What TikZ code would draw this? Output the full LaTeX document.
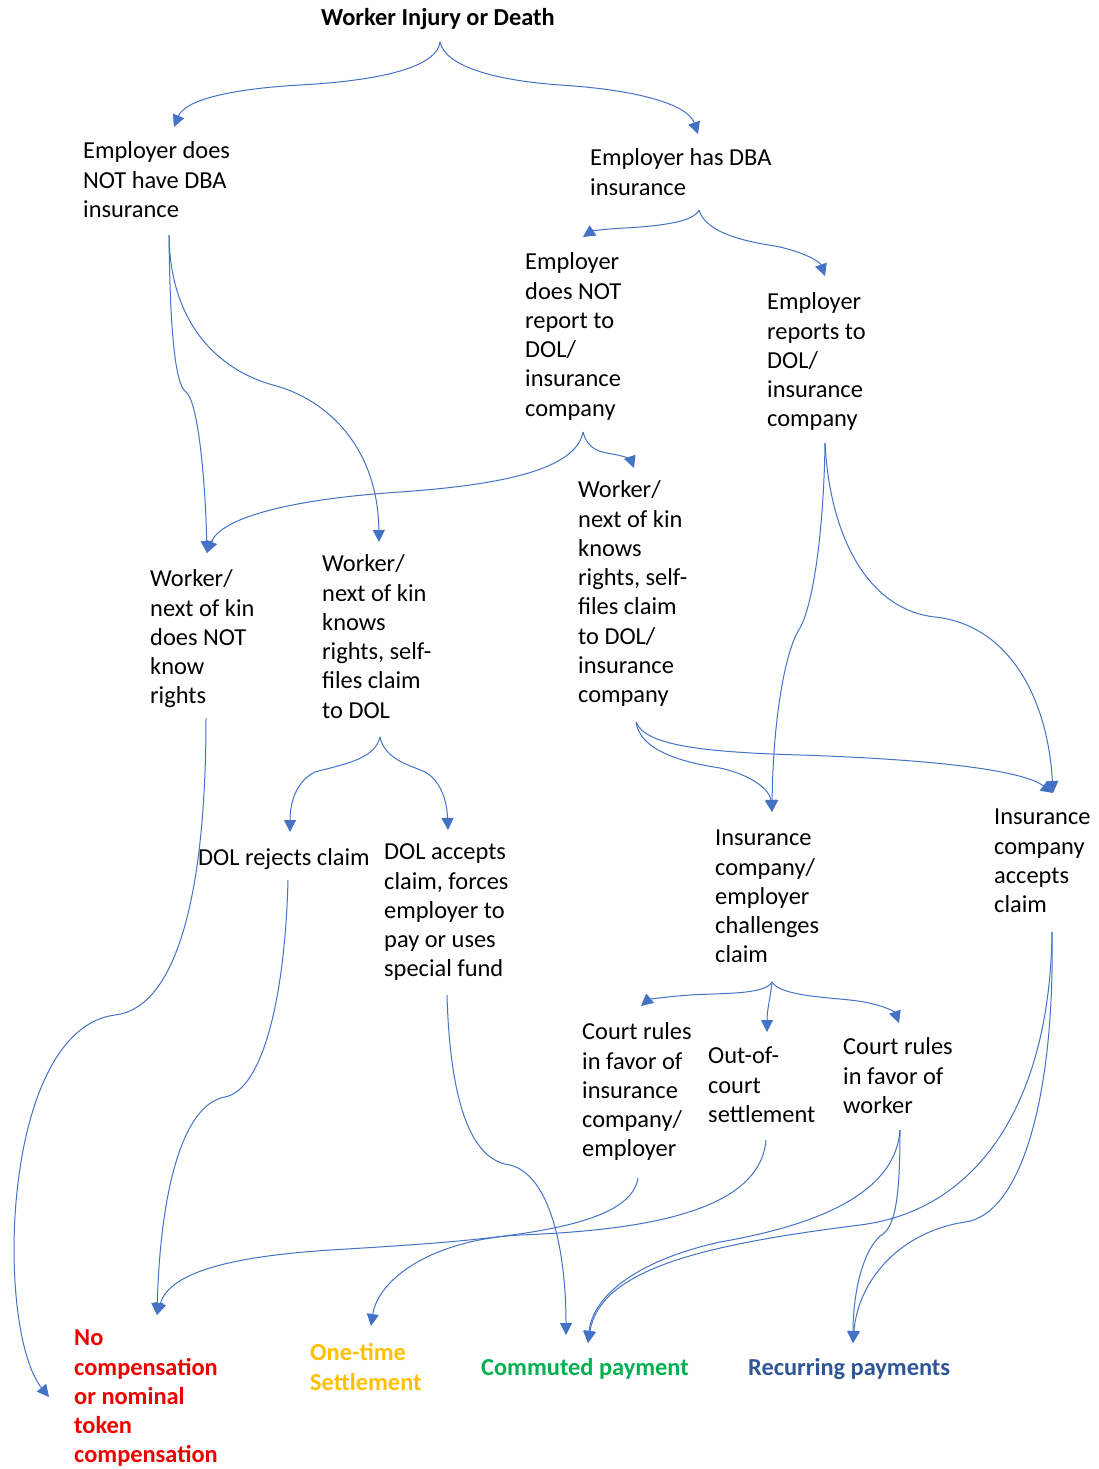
\documentclass[tikz,border=0pt]{standalone}
\usepackage{fontspec}
\setmainfont{Carlito}
\usetikzlibrary{arrows.meta}
\definecolor{arrc}{HTML}{4472C4}
\definecolor{cred}{HTML}{EE0000}
\definecolor{cgold}{HTML}{FFC000}
\definecolor{cgreen}{HTML}{00B050}
\definecolor{cblue}{HTML}{2F5597}
\begin{document}
\begin{tikzpicture}[x=1pt,y=-1pt,
  lbl/.style={anchor=north west,inner sep=0pt,align=left,font=\fontsize{24.4}{29.3}\selectfont},
  res/.style={lbl,font=\fontsize{24.4}{29.3}\selectfont\bfseries},
  conn/.style={draw=arrc,line width=1pt,-{Triangle[length=12pt,width=12pt]}}]
\useasboundingbox (0,0) rectangle (1099,1469);
\fill[white] (0,0) rectangle (1099,1469);

% nodes
\node[anchor=base,inner sep=0pt,font=\fontsize{24.4}{29.3}\selectfont\bfseries] (title) at (438,26) {Worker Injury or Death};
\node[lbl] (empno) at (83,138) {\strut Employer does\\NOT have DBA\\insurance};
\node[lbl] (emphas) at (590,145) {\strut Employer has DBA\\insurance};
\node[lbl] (empnotrep) at (525,249) {\strut Employer\\does NOT\\report to\\DOL/\\insurance\\company};
\node[lbl] (emprep) at (767,289) {\strut Employer\\reports to\\DOL/\\insurance\\company};
\node[lbl] (wkins) at (578,477) {\strut Worker/\\next of kin\\knows\\rights, self-\\files claim\\to DOL/\\insurance\\company};
\node[lbl] (wknot) at (150,566) {\strut Worker/\\next of kin\\does NOT\\know\\rights};
\node[lbl] (wkdol) at (322,551) {\strut Worker/\\next of kin\\knows\\rights, self-\\files claim\\to DOL};
\node[lbl] (dolrej) at (198,845) {\strut DOL rejects claim};
\node[lbl] (dolacc) at (384,839) {\strut DOL accepts\\claim, forces\\employer to\\pay or uses\\special fund};
\node[lbl] (inschal) at (715,825) {\strut Insurance\\company/\\employer\\challenges\\claim};
\node[lbl] (insacc) at (994,804) {\strut Insurance\\company\\accepts\\claim};
\node[lbl] (courtins) at (582,1019) {\strut Court rules\\in favor of\\insurance\\company/\\employer};
\node[lbl] (outcourt) at (708,1043) {\strut Out-of-\\court\\settlement};
\node[lbl] (courtwk) at (843,1034) {\strut Court rules\\in favor of\\worker};
\node[res,text=cred] (nocomp) at (74,1325) {\strut No\\compensation\\or nominal\\token\\compensation};
\node[res,text=cgold] (onetime) at (310,1340) {\strut One-time\\Settlement};
\node[res,text=cgreen] (commuted) at (481,1355) {\strut Commuted payment};
\node[res,text=cblue] (recurring) at (748,1355) {\strut Recurring payments};

% connector ends
\coordinate (title-o) at (440,42);
\coordinate (empno-i) at (174,127);
\coordinate (emphas-i) at (698,134);
\coordinate (emphas-o) at (699,210);
\coordinate (empnotrep-i) at (583,237);
\coordinate (emprep-i) at (825,276);
\coordinate (empno-o) at (169,235);
\coordinate (wknot-i) at (207,553);
\coordinate (wkdol-i) at (379,542);
\coordinate (empnotrep-o) at (583,432);
\coordinate (wkins-i) at (634,468);
\coordinate (emprep-o) at (825,443);
\coordinate (inschal-i) at (772,812);
\coordinate (insacc-i) at (1053,793);
\coordinate (wkins-o) at (636,722);
\coordinate (wkdol-o) at (380,737);
\coordinate (dolrej-i) at (290,832);
\coordinate (dolacc-i) at (448,830);
\coordinate (inschal-o) at (772,982);
\coordinate (courtins-i) at (641,1006);
\coordinate (outcourt-i) at (767,1032);
\coordinate (courtwk-i) at (899,1023);
\coordinate (wknot-o) at (206,718);
\coordinate (nocomp-i1) at (49,1397);
\coordinate (dolrej-o) at (288,880);
\coordinate (nocomp-i2) at (157,1315);
\coordinate (dolacc-o) at (447,995);
\coordinate (commuted-i1) at (566,1335);
\coordinate (courtins-o) at (638,1178);
\coordinate (outcourt-o) at (766,1140);
\coordinate (onetime-i) at (371,1326);
\coordinate (courtwk-o) at (900,1130);
\coordinate (commuted-i2) at (588,1343);
\coordinate (recurring-i) at (853,1343);
\coordinate (insacc-o) at (1052,932);

% connectors
\draw[conn] (title-o) .. controls (437,65) and (390,80) .. (300,85) .. controls (230,89) and (185,100) .. (empno-i);
\draw[conn] (title-o) .. controls (445,65) and (490,80) .. (560,85) .. controls (640,90) and (688,105) .. (emphas-i);

\draw[conn] (emphas-o) .. controls (694,222) and (660,226) .. (625,228) .. controls (605,229) and (592,231) .. (empnotrep-i);
\draw[conn] (emphas-o) .. controls (705,230) and (735,240) .. (775,246) .. controls (805,252) and (820,262) .. (emprep-i);

\draw[conn] (empno-o) .. controls (170,330) and (175,385) .. (186,392) .. controls (197,400) and (205,470) .. (wknot-i);
\draw[conn] (empno-o) .. controls (170,330) and (225,372) .. (273,385) .. controls (330,400) and (378,450) .. (wkdol-i);

\draw[conn] (empnotrep-o) .. controls (576,470) and (500,485) .. (400,492) .. controls (280,500) and (220,520) .. (wknot-i);
\draw[conn] (empnotrep-o) .. controls (588,450) and (600,452) .. (612,454) .. controls (625,456) and (631,460) .. (wkins-i);

\draw[conn] (emprep-o) .. controls (824,520) and (815,600) .. (800,628) .. controls (785,650) and (773,720) .. (inschal-i);
\draw[conn] (emprep-o) .. controls (830,540) and (870,610) .. (935,617) .. controls (1010,625) and (1048,700) .. (insacc-i);

\draw[conn] (wkins-o) .. controls (640,750) and (680,762) .. (720,768) .. controls (752,775) and (770,790) .. (inschal-i);
\draw[conn] (wkins-o) .. controls (645,745) and (700,752) .. (800,755) .. controls (950,760) and (1025,772) .. (insacc-i);

\draw[conn] (wkdol-o) .. controls (375,760) and (340,765) .. (315,772) .. controls (298,780) and (290,800) .. (dolrej-i);
\draw[conn] (wkdol-o) .. controls (385,760) and (410,765) .. (425,772) .. controls (440,780) and (447,800) .. (dolacc-i);

\draw[conn] (inschal-o) .. controls (765,995) and (720,993) .. (690,995) .. controls (662,997) and (648,1000) .. (courtins-i);
\draw[conn] (inschal-o) .. controls (770,1000) and (767,1010) .. (outcourt-i);
\draw[conn] (inschal-o) .. controls (780,995) and (820,997) .. (850,1000) .. controls (880,1003) and (895,1012) .. (courtwk-i);

\draw[conn] (wknot-o) .. controls (206,900) and (175,1008) .. (115,1015) .. controls (0,1030) and (-5,1330) .. (nocomp-i1);
\draw[conn] (dolrej-o) .. controls (285,1000) and (262,1090) .. (225,1097) .. controls (180,1105) and (160,1200) .. (nocomp-i2);
\draw[conn] (dolacc-o) .. controls (450,1100) and (470,1160) .. (510,1165) .. controls (550,1175) and (566,1250) .. (commuted-i1);
\draw[conn] (courtins-o) .. controls (630,1230) and (500,1240) .. (330,1250) .. controls (240,1256) and (170,1270) .. (nocomp-i2);
\draw[conn] (outcourt-o) .. controls (760,1210) and (650,1230) .. (520,1235) .. controls (430,1240) and (378,1280) .. (onetime-i);
\draw[conn] (courtwk-o) .. controls (895,1200) and (800,1228) .. (720,1242) .. controls (630,1262) and (592,1300) .. (commuted-i2);
\draw[conn] (courtwk-o) .. controls (900,1200) and (895,1228) .. (880,1236) .. controls (860,1255) and (853,1300) .. (recurring-i);
\draw[conn] (insacc-o) .. controls (1050,1100) and (980,1210) .. (860,1225) .. controls (700,1245) and (600,1270) .. (commuted-i2);
\draw[conn] (insacc-o) .. controls (1055,1100) and (1020,1215) .. (965,1222) .. controls (900,1232) and (858,1280) .. (recurring-i);
\end{tikzpicture}
\end{document}
